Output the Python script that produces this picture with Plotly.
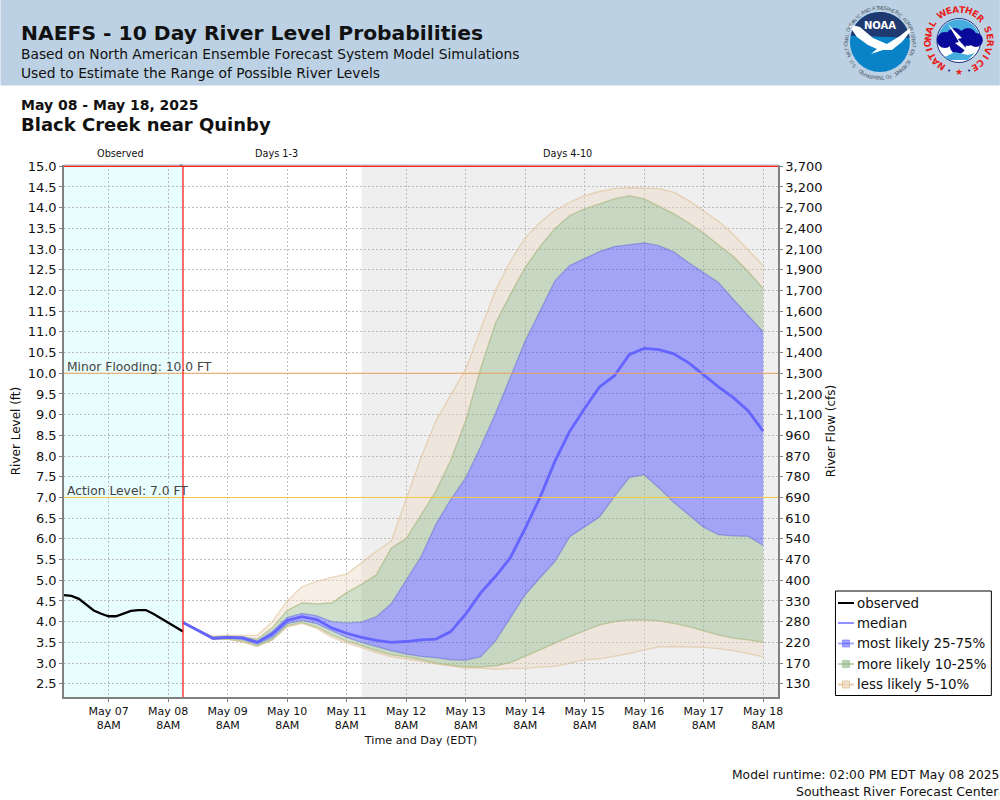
import numpy as np
import pandas as pd
import plotly.graph_objects as go

# stage in feet, 3-hourly observed and 6-hourly ensemble percentiles
obs_stage = [4.64, 4.62, 4.55, 4.42, 4.27, 4.19, 4.13, 4.13, 4.2, 4.26, 4.28, 4.28, 4.19, 4.08, 3.97, 3.85, 3.76]
median = [3.98, 3.8, 3.6, 3.62, 3.61, 3.5, 3.7, 4.03, 4.12, 4.05, 3.85, 3.72, 3.62, 3.55, 3.5, 3.52, 3.56, 3.58, 3.76, 4.18,
          4.69, 5.09, 5.54, 6.25, 7.0, 7.87, 8.6, 9.15, 9.67, 9.94, 10.45, 10.6, 10.57, 10.47, 10.25, 9.96, 9.67, 9.41, 9.09, 8.6]
p75 = [3.98, 3.8, 3.61, 3.63, 3.63, 3.53, 3.76, 4.1, 4.2, 4.14, 4.0, 3.97, 3.99, 4.12, 4.43, 5.0, 5.57, 6.35, 6.95, 7.47,
       8.22, 9.02, 9.9, 10.78, 11.5, 12.23, 12.6, 12.77, 12.94, 13.06, 13.1, 13.15, 13.08, 12.93, 12.67, 12.43, 12.19, 11.78, 11.4, 11.0]
p25 = [3.98, 3.8, 3.58, 3.6, 3.57, 3.46, 3.62, 3.95, 4.03, 3.95, 3.78, 3.62, 3.5, 3.4, 3.3, 3.22, 3.16, 3.13, 3.08, 3.07,
       3.15, 3.53, 4.09, 4.65, 5.06, 5.45, 6.05, 6.3, 6.53, 7.02, 7.48, 7.55, 7.23, 6.88, 6.58, 6.28, 6.1, 6.07, 6.06, 5.84]
p90 = [3.98, 3.8, 3.63, 3.65, 3.63, 3.58, 3.85, 4.27, 4.45, 4.43, 4.45, 4.7, 4.9, 5.13, 5.78, 6.0, 6.58, 7.15, 7.9, 8.85,
       10.1, 11.2, 11.9, 12.55, 13.06, 13.49, 13.81, 13.97, 14.09, 14.21, 14.29, 14.21, 14.03, 13.85, 13.63, 13.39, 13.1, 12.82, 12.45, 12.05]
p10 = [3.98, 3.8, 3.58, 3.58, 3.53, 3.42, 3.57, 3.9, 3.98, 3.87, 3.68, 3.53, 3.42, 3.3, 3.2, 3.15, 3.08, 3.0, 2.95, 2.91,
       2.91, 2.93, 3.01, 3.16, 3.32, 3.48, 3.64, 3.78, 3.92, 4.0, 4.04, 4.04, 4.02, 3.96, 3.88, 3.78, 3.68, 3.6, 3.56, 3.5]
p95 = [3.98, 3.8, 3.65, 3.67, 3.67, 3.67, 4.0, 4.5, 4.85, 4.97, 5.07, 5.15, 5.42, 5.7, 5.95, 6.95, 7.96, 8.85, 9.48, 10.1,
       11.05, 12.0, 12.7, 13.27, 13.64, 13.93, 14.13, 14.29, 14.39, 14.46, 14.48, 14.47, 14.46, 14.37, 14.17, 13.92, 13.67, 13.35, 12.98, 12.6]
p05 = [3.98, 3.8, 3.58, 3.57, 3.5, 3.4, 3.55, 3.87, 3.96, 3.83, 3.62, 3.48, 3.37, 3.25, 3.15, 3.1, 3.04, 2.98, 2.93, 2.88,
       2.88, 2.85, 2.87, 2.87, 2.9, 2.92, 3.0, 3.08, 3.1, 3.16, 3.23, 3.32, 3.39, 3.4, 3.39, 3.38, 3.35, 3.3, 3.23, 3.15]

stage_ticks = [2.5, 3.0, 3.5, 4.0, 4.5, 5.0, 5.5, 6.0, 6.5, 7.0, 7.5, 8.0, 8.5, 9.0, 9.5, 10.0, 10.5, 11.0, 11.5, 12.0, 12.5, 13.0, 13.5, 14.0, 14.5, 15.0]
flow_labels = ["130", "170", "220", "280", "330", "400", "470", "540", "610", "690", "780", "870", "960", "1,100", "1,200",
               "1,300", "1,400", "1,500", "1,600", "1,700", "1,900", "2,100", "2,400", "2,700", "3,200", "3,700"]
day_ticks = ["2025-05-%02d 08:00" % d for d in range(7, 19)]
day_labels = ["May %02d<br>8AM" % d for d in range(7, 19)]
legend_names = ["observed", "median", "most likely 25-75%", "more likely 10-25%", "less likely 5-10%"]

obs_times = pd.date_range("2025-05-06 14:00", periods=len(obs_stage), freq="3h")
fc_times = pd.date_range("2025-05-08 14:00", periods=len(median), freq="6h")

FONT = "DejaVu Sans"
L, T, W, H = 63.5, 165.0, 714.5, 532.0


def px(x):
    return (x - L) / W


def py(y):
    return 1 - (y - T) / H


def text(x, y, s, size, color="#111111", bold=False, anchor="left", angle=0):
    s = "<b>%s</b>" % s if bold else s
    return dict(xref="paper", yref="paper", x=px(x), y=py(y), text=s, showarrow=False, xanchor=anchor, yanchor="middle",
                font=dict(family=FONT, size=size, color=color), textangle=angle, borderpad=0, borderwidth=0)


def poly(points, color):
    path = "M" + " L".join("%.5f,%.5f" % (px(a), py(b)) for a, b in points) + " Z"
    return dict(type="path", xref="paper", yref="paper", path=path, fillcolor=color, line=dict(width=0), layer="above")


def disc(cx, cy, r, color, line=None):
    return dict(type="circle", xref="paper", yref="paper", x0=px(cx - r), x1=px(cx + r), y0=py(cy + r), y1=py(cy - r),
                fillcolor=color, line=dict(width=1 if line else 0, color=line or color), layer="above")


def box(x0, y0, x1, y1, fill, line=None, width=1):
    return dict(type="rect", xref="paper", yref="paper", x0=px(x0), x1=px(x1), y0=py(y1), y1=py(y0), fillcolor=fill,
                line=dict(color=line, width=width) if line else dict(width=0), layer="above")


def seg(x0, x1, y, color, width=2):
    return dict(type="line", xref="paper", yref="paper", x0=px(x0), x1=px(x1), y0=py(y), y1=py(y), line=dict(color=color, width=width), layer="above")


def ring(s, cx, cy, r, start, stop, size, color, bold=False):
    # letters around a circle, angles clockwise from the top
    out = []
    for ch, a in zip(s, np.linspace(start, stop, len(s))):
        t = np.radians(a)
        out.append(text(cx + r * np.sin(t), cy - r * np.cos(t), ch, size, color, bold, "center", a))
    return out


fig = go.Figure()


def band(lo, hi, fill, edge):
    fig.add_trace(go.Scatter(x=fc_times, y=lo, mode="lines", line=dict(color=edge, width=1.3), showlegend=False, hoverinfo="skip"))
    fig.add_trace(go.Scatter(x=fc_times, y=hi, mode="lines", line=dict(color=edge, width=1.3), fill="tonexty", fillcolor=fill,
                             showlegend=False, hoverinfo="skip"))


TAN, TAN_E = "rgba(235,217,192,0.42)", "rgba(222,184,135,0.5)"
GREEN, GREEN_E = "rgba(142,180,130,0.42)", "rgba(144,190,130,0.35)"
BLUE, BLUE_E = "rgba(60,60,255,0.42)", "rgba(90,90,255,0.3)"

band(p05, p10, TAN, TAN_E)
band(p90, p95, TAN, TAN_E)
band(p10, p25, GREEN, GREEN_E)
band(p75, p90, GREEN, GREEN_E)
band(p25, p75, BLUE, BLUE_E)

fig.add_trace(go.Scatter(x=fc_times, y=median, mode="lines", name="median", line=dict(color="#6464ff", width=2.8), showlegend=False))
fig.add_trace(go.Scatter(x=obs_times, y=obs_stage, mode="lines", name="observed", line=dict(color="black", width=2.3), showlegend=False))

# keeps the flow axis on the page
fig.add_trace(go.Scatter(x=obs_times, y=obs_stage, yaxis="y2", mode="lines", line=dict(width=0), showlegend=False, hoverinfo="skip"))

shapes = [
    dict(type="rect", xref="paper", yref="paper", x0=px(0), x1=px(1000), y0=py(85.5), y1=py(0), fillcolor="#bcd2e4", line=dict(width=0), layer="below"),
    dict(type="rect", xref="x", yref="paper", x0="2025-05-06 14:00", x1="2025-05-08 14:00", y0=0, y1=1, fillcolor="#e8fdfd", line=dict(width=0), layer="below"),
    dict(type="rect", xref="x", yref="paper", x0="2025-05-11 14:00", x1="2025-05-18 14:00", y0=0, y1=1, fillcolor="#efefef", line=dict(width=0), layer="below"),
    dict(type="line", xref="paper", yref="y", x0=0, x1=1, y0=10, y1=10, line=dict(color="#eba55f", width=1)),
    dict(type="line", xref="paper", yref="y", x0=0, x1=1, y0=7, y1=7, line=dict(color="#f5c842", width=1)),
    dict(type="line", xref="paper", yref="y", x0=0, x1=1, y0=15, y1=15, line=dict(color="#ff2020", width=1.3)),
    dict(type="line", xref="x", yref="paper", x0="2025-05-08 14:00", x1="2025-05-08 14:00", y0=0, y1=py(166), line=dict(color="#ff2020", width=1.3)),
    dict(type="line", xref="paper", yref="paper", x0=0, x1=1, y0=1, y1=1, line=dict(color="#b0b0b0", width=1)),
    box(179.5, 164.5, 182, 166, "#777777"),
]

# legend box drawn by hand, plotly's own swatch cannot be this narrow
shapes.append(box(835.5, 591, 991.5, 695.5, "white", "black", 1))
legend_y = [603, 623, 643.5, 664, 684.5]
shapes += [seg(838, 854, legend_y[0], "black"), seg(838, 854, legend_y[1], "#9090ff")]
for yy, fill, edge in [(legend_y[2], "rgba(60,60,255,0.45)", "rgba(90,90,255,0.5)"),
                       (legend_y[3], "rgba(142,180,130,0.6)", "rgba(144,190,130,0.6)"),
                       (legend_y[4], "rgba(235,217,192,0.7)", "rgba(222,184,135,0.7)")]:
    shapes += [seg(838, 854, yy, edge), box(842.5, yy - 3.5, 849.5, yy + 3.5, fill, edge, 1)]

# NOAA logo
nc = (880, 42)
a = np.radians(np.linspace(-78, 82, 30))
dome = [(nc[0] + 30 * np.sin(t), nc[1] - 30 * np.cos(t)) for t in a]
swoosh = [(848, 24), (860, 27), (873, 38), (887, 44), (900, 36), (910, 28), (911, 31), (902, 42), (892, 50), (883, 50), (871, 54), (877, 49), (868, 45), (857, 37)]
shapes += [disc(nc[0], nc[1], 30, "#0a82c8"), poly(dome, "#1f3a70"), poly(swoosh, "#ffffff")]

# NWS logo
wc = (959, 40.5)
shapes += [disc(wc[0], wc[1], 22, "#ffffff", "#1a2a80")]
a = np.radians(np.linspace(-72, 72, 24))
shapes += [poly([(wc[0] + 21 * np.sin(t), wc[1] - 21 * np.cos(t)) for t in a], "#45aede")]
for cx, cy, r in [(945, 40, 8), (955, 37, 9), (968, 37, 9), (976, 40, 7), (958, 46, 8)]:
    shapes.append(disc(cx, cy, r, "#0a0a9a"))
shapes.append(poly([(948, 24), (962, 38), (958, 39), (974, 57), (955, 43), (959, 42)], "#ffffff"))
shapes.append(poly([(945, 57), (955, 52), (968, 55), (975, 53), (968, 60), (950, 60)], "#45aede"))

annotations = [
    text(20, 33, "NAEFS - 10 Day River Level Probabilities", 20.3, bold=True),
    text(20, 54, "Based on North American Ensemble Forecast System Model Simulations", 13.8),
    text(20, 73, "Used to Estimate the Range of Possible River Levels", 13.8),
    text(20, 105, "May 08 - May 18, 2025", 14, bold=True),
    text(20, 125, "Black Creek near Quinby", 18, bold=True),
    text(120, 153.5, "Observed", 9.7, anchor="center"),
    text(276, 153.5, "Days 1-3", 9.7, anchor="center"),
    text(567, 153.5, "Days 4-10", 9.7, anchor="center"),
    text(67, 367, "Minor Flooding: 10.0 FT", 12.3, "#444444"),
    text(67, 491, "Action Level: 7.0 FT", 12.3, "#444444"),
    text(999, 775, "Model runtime: 02:00 PM EDT May 08 2025", 12.3, anchor="right"),
    text(999, 791, "Southeast River Forecast Center", 12.5, anchor="right"),
    text(880, 25, "NOAA", 10, "#ffffff", True, "center"),
]
for name, yy in zip(legend_names, legend_y):
    annotations.append(text(857, yy, name, 13.4))
annotations += ring("NATIONAL OCEANIC AND ATMOSPHERIC ADMINISTRATION", nc[0], nc[1], 34, -112, 112, 5, "#55606e")
annotations += ring("U.S. DEPARTMENT OF COMMERCE", nc[0], nc[1] + 2, 34, -122, -238, 5, "#55606e")
annotations += ring("NATIONAL", wc[0], wc[1], 31, -145, -58, 9, "#e8201c", True)
annotations += ring("WEATHER", wc[0], wc[1], 31, -32, 45, 9, "#e8201c", True)
annotations += ring("SERVICE", wc[0], wc[1], 31, 68, 150, 9, "#e8201c", True)
annotations += [text(949, 71, "•", 7, "#1a2a80", anchor="center"), text(959, 71.5, "★", 9, "#e8201c", anchor="center"), text(969, 71, "•", 7, "#1a2a80", anchor="center")]

grid = dict(showgrid=True, gridcolor="#bcbcbc", griddash="2px,2px", gridwidth=1, zeroline=False, ticks="outside", ticklen=3,
            tickcolor="#808080", showline=True, linecolor="#808080", linewidth=1.5, tickfont=dict(family=FONT, size=11, color="#111111"))

fig.update_layout(
    width=1000, height=800, autosize=False, paper_bgcolor="white", plot_bgcolor="white",
    margin=dict(l=L, r=1000 - L - W, t=T, b=800 - T - H, pad=0),
    font=dict(family=FONT, color="#111111"), showlegend=False,
    shapes=shapes, annotations=annotations,
    xaxis=dict(grid, type="date", range=["2025-05-06 14:00", "2025-05-18 14:00"], tickmode="array", tickvals=day_ticks, ticktext=day_labels,
               title=dict(text="Time and Day (EDT)", font=dict(size=11.2), standoff=5)),
    yaxis=dict(grid, range=[2.18, 15.03], tickmode="array", tickvals=stage_ticks, ticktext=["%.1f" % v for v in stage_ticks],
               tickfont=dict(family=FONT, size=13, color="#111111"), title=dict(text="River Level (ft)", font=dict(size=12), standoff=4)),
    yaxis2=dict(overlaying="y", side="right", anchor="x", range=[2.18, 15.03], tickmode="array", tickvals=stage_ticks, ticktext=flow_labels,
                showgrid=False, zeroline=False, ticks="outside", ticklen=3, tickcolor="#808080", showline=True, linecolor="#808080", linewidth=1.5,
                tickfont=dict(family=FONT, size=13, color="#111111"), title=dict(text="River Flow (cfs)", font=dict(size=12), standoff=5)),
    hovermode=False,
)

fig.write_html("out.html", config=dict(displayModeBar=False), post_script="document.body.style.margin='0';")
